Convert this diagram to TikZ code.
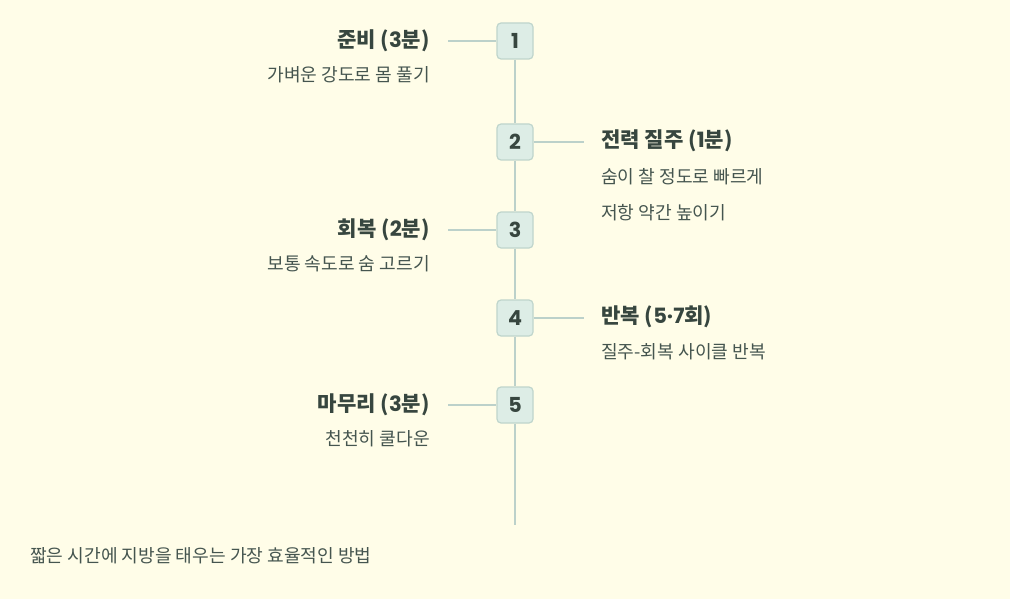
\documentclass[tikz,border=0pt]{standalone}
\usepackage{fontspec}
\setmainfont{Noto Sans CJK KR}
\newfontfamily\numfont{Poppins}
\definecolor{bgc}{HTML}{FFFDE8}
\definecolor{boxfill}{HTML}{DDEDE6}
\definecolor{boxline}{HTML}{BFD5CC}
\definecolor{linec}{HTML}{BCD1CA}
\definecolor{txt}{HTML}{37463F}
\definecolor{subtxt}{HTML}{45554F}
\begin{document}
\begin{tikzpicture}[x=0.75pt,y=-0.75pt,
  stepbox/.style={draw=boxline,fill=boxfill,line width=0.9pt,rounded corners=3pt,minimum width=27pt,minimum height=27pt,inner sep=0pt,font=\numfont\bfseries\fontsize{15.5}{16}\selectfont,text=txt},
  ttl/.style={font=\bfseries\fontsize{15.8}{18}\selectfont,text=txt,inner sep=0pt},
  sub/.style={font=\fontsize{13.6}{15}\selectfont,text=subtxt,inner sep=0pt},
  conn/.style={draw=linec,line width=1.4pt}]
\fill[bgc] (0,0) rectangle (1010,599);
\useasboundingbox (0,0) rectangle (1010,599);
\coordinate (end) at (515,525);
\node[stepbox] (b1) at (515,41) {1};
\node[stepbox] (b2) at (515,142) {2};
\node[stepbox] (b3) at (515,230) {3};
\node[stepbox] (b4) at (515,318) {4};
\node[stepbox] (b5) at (515,405) {5};
\draw[conn] (b1.south) -- (b2.north);
\draw[conn] (b2.south) -- (b3.north);
\draw[conn] (b3.south) -- (b4.north);
\draw[conn] (b4.south) -- (b5.north);
\draw[conn] (b5.south) -- (end);
\coordinate (l1) at (448,41);
\coordinate (l3) at (448,230);
\coordinate (l5) at (448,405);
\coordinate (r2) at (584,142);
\coordinate (r4) at (584,318);
\draw[conn] (l1) -- (b1.west);
\draw[conn] (l3) -- (b3.west);
\draw[conn] (l5) -- (b5.west);
\draw[conn] (b2.east) -- (r2);
\draw[conn] (b4.east) -- (r4);
\node[ttl,anchor=east] (t1) at (430,41) {준비 ({\numfont 3}분)};
\node[sub,anchor=east] (s1) at (430,75) {가벼운 강도로 몸 풀기};
\node[ttl,anchor=west] (t2) at (601,141) {전력 질주 ({\numfont 1}분)};
\node[sub,anchor=west] (s2a) at (601,177) {숨이 찰 정도로 빠르게};
\node[sub,anchor=west] (s2b) at (601,213) {저항 약간 높이기};
\node[ttl,anchor=east] (t3) at (430,230) {회복 ({\numfont 2}분)};
\node[sub,anchor=east] (s3) at (430,264) {보통 속도로 숨 고르기};
\node[ttl,anchor=west] (t4) at (601,317) {반복 ({\numfont 5·7}회)};
\node[sub,anchor=west] (s4) at (601,352) {질주-회복 사이클 반복};
\node[ttl,anchor=east] (t5) at (430,405) {마무리 ({\numfont 3}분)};
\node[sub,anchor=east] (s5) at (430,439) {천천히 쿨다운};
\node[sub,anchor=west] (f) at (30,556) {짧은 시간에 지방을 태우는 가장 효율적인 방법};
\end{tikzpicture}
\end{document}
